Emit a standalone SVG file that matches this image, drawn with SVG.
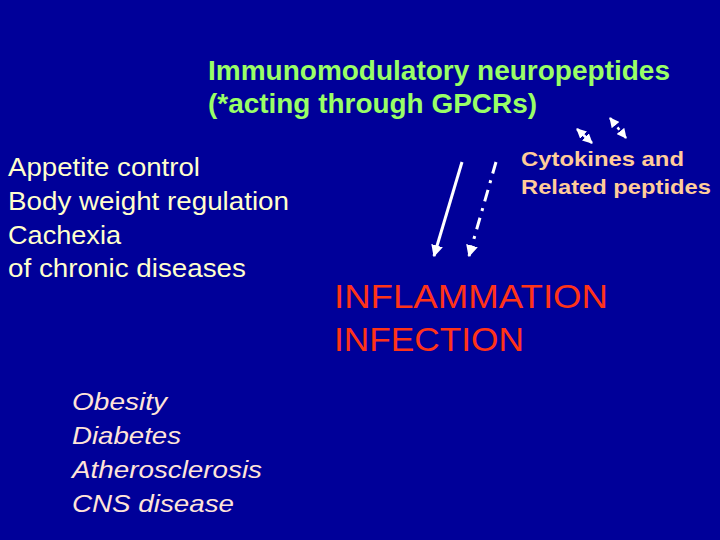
<svg xmlns="http://www.w3.org/2000/svg" width="720" height="540" viewBox="0 0 720 540">
<style>
text{font-family:"Liberation Sans",Arial,sans-serif}
.title{font-weight:bold;font-size:27px;fill:#99ff66}
.left{font-size:25px;fill:#ffffcc}
.cyto{font-weight:bold;font-size:21px;fill:#ffcc99}
.infl{font-size:34px;fill:#ff3318}
.dis{font-size:24px;font-style:italic;fill:#ffe4d8}
.arr{stroke:#ffffff;fill:none}
</style>
<defs>
<marker id="head" viewBox="0 0 10 10" refX="9" refY="5" markerWidth="4" markerHeight="4" orient="auto-start-reverse" markerUnits="strokeWidth">
<path d="M0,0 L10,5 L0,10 z" fill="#ffffff"/>
</marker>
</defs>
<rect width="720" height="540" fill="#000099"/>
<g id="title">
<text class="title" x="208" y="80" textLength="462" lengthAdjust="spacingAndGlyphs">Immunomodulatory neuropeptides</text>
<text class="title" x="208" y="113" textLength="329" lengthAdjust="spacingAndGlyphs">(*acting through GPCRs)</text>
</g>
<g id="functions">
<text class="left" x="8" y="176" textLength="192" lengthAdjust="spacingAndGlyphs">Appetite control</text>
<text class="left" x="8" y="210" textLength="281" lengthAdjust="spacingAndGlyphs">Body weight regulation</text>
<text class="left" x="8" y="244" textLength="113" lengthAdjust="spacingAndGlyphs">Cachexia</text>
<text class="left" x="8" y="277" textLength="238" lengthAdjust="spacingAndGlyphs">of chronic diseases</text>
</g>
<g id="cytokines">
<text class="cyto" x="521" y="166" textLength="163" lengthAdjust="spacingAndGlyphs">Cytokines and</text>
<text class="cyto" x="521" y="194" textLength="190" lengthAdjust="spacingAndGlyphs">Related peptides</text>
</g>
<g id="inflammation">
<text class="infl" x="334" y="308" textLength="274" lengthAdjust="spacingAndGlyphs">INFLAMMATION</text>
<text class="infl" x="334" y="351" textLength="190" lengthAdjust="spacingAndGlyphs">INFECTION</text>
</g>
<g id="diseases">
<text class="dis" x="72" y="410" textLength="95" lengthAdjust="spacingAndGlyphs">Obesity</text>
<text class="dis" x="72" y="444" textLength="109" lengthAdjust="spacingAndGlyphs">Diabetes</text>
<text class="dis" x="72" y="478" textLength="190" lengthAdjust="spacingAndGlyphs">Atherosclerosis</text>
<text class="dis" x="72" y="512" textLength="162" lengthAdjust="spacingAndGlyphs">CNS disease</text>
</g>
<g id="connectors">
<line class="arr" x1="462" y1="162" x2="434" y2="256" stroke-width="3" marker-end="url(#head)"/>
<line class="arr" x1="496" y1="162" x2="469" y2="256" stroke-width="3" stroke-dasharray="12,7,3,7" marker-end="url(#head)"/>
<line class="arr" x1="577" y1="129" x2="592" y2="143" stroke-width="2.5" marker-start="url(#head)" marker-end="url(#head)"/>
<line class="arr" x1="610" y1="118" x2="626" y2="138" stroke-width="2.5" stroke-dasharray="3,3" marker-start="url(#head)" marker-end="url(#head)"/>
</g>
</svg>
